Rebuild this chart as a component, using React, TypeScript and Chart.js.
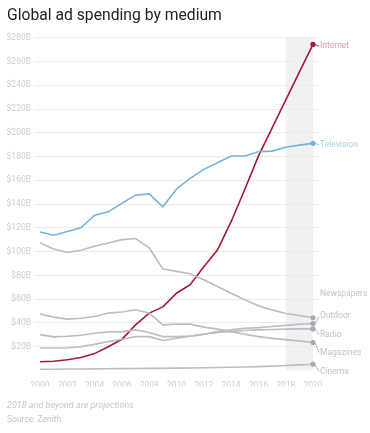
import React, { useEffect, useRef } from "react";
import { Chart, registerables } from "chart.js";

Chart.register(...registerables);

const years = [2000, 2001, 2002, 2003, 2004, 2005, 2006, 2007, 2008, 2009, 2010, 2011, 2012, 2013, 2014, 2015, 2016, 2017, 2018, 2019, 2020];
const xTickYears = [2000, 2002, 2004, 2006, 2008, 2010, 2012, 2014, 2016, 2018, 2020];
const yTickValues = [0, 20, 40, 60, 80, 100, 120, 140, 160, 180, 200, 220, 240, 260, 280];

const internet = [7.3, 7.8, 9.0, 11.0, 14.2, 20.0, 26.3, 38.4, 48.3, 53.5, 65.0, 72.2, 87.2, 101.3, 125.2, 152.3, 180.4, 204.0, 227.5, 251.0, 274.3];
const television = [116.6, 113.8, 116.9, 120.0, 130.7, 133.5, 140.7, 147.5, 148.6, 137.8, 152.6, 161.6, 169.2, 174.8, 180.5, 180.5, 184.1, 184.6, 187.8, 189.6, 191.1];
const newspapers = [107.4, 102.3, 99.4, 101.1, 104.5, 107.3, 110.1, 111.0, 103.2, 85.4, 83.4, 81.4, 76.4, 70.7, 65.0, 59.5, 54.4, 51.0, 48.0, 46.3, 44.4];
const outdoor = [18.9, 18.9, 18.9, 20.1, 22.1, 24.3, 26.3, 28.5, 28.5, 25.2, 27.2, 28.9, 30.5, 32.7, 34.2, 35.6, 36.1, 37.0, 38.0, 38.9, 39.5];
const radio = [30.2, 28.3, 28.8, 29.7, 31.4, 32.5, 32.7, 34.2, 31.9, 28.5, 28.5, 28.9, 30.5, 32.0, 32.7, 33.6, 34.2, 34.5, 34.8, 35.0, 35.0];
const magazines = [47.6, 44.9, 43.2, 44.0, 45.4, 48.3, 49.2, 51.1, 48.3, 38.4, 39.0, 39.0, 36.5, 34.8, 32.7, 30.5, 28.5, 27.0, 26.0, 24.8, 23.5];
const cinema = [1.0, 1.1, 1.2, 1.3, 1.4, 1.5, 1.6, 1.7, 1.8, 1.8, 2.0, 2.1, 2.3, 2.5, 2.7, 3.0, 3.3, 3.7, 4.2, 4.7, 5.3];

const projectionStart = 2018;
const projectionEnd = 2020;

const RED = "#a8192f";
const BLUE = "#74b4de";
const GRAY = "#bcbcc3";
const GRAY_DOT = "#a9a9b1";

type SeriesDef = {
  name: string;
  values: number[];
  color: string;
  dot: string;
  labelColor: string;
  labelDy: number;
  leader: boolean;
};

const series: SeriesDef[] = [
  { name: "Newspapers", values: newspapers, color: GRAY, dot: GRAY_DOT, labelColor: "#c2c2c2", labelDy: -23.7, leader: false },
  { name: "Outdoor", values: outdoor, color: GRAY, dot: GRAY_DOT, labelColor: "#c2c2c2", labelDy: -7.6, leader: true },
  { name: "Radio", values: radio, color: GRAY, dot: GRAY_DOT, labelColor: "#c2c2c2", labelDy: 6, leader: true },
  { name: "Magazines", values: magazines, color: GRAY, dot: GRAY_DOT, labelColor: "#c2c2c2", labelDy: 10, leader: true },
  { name: "Cinema", values: cinema, color: GRAY, dot: GRAY_DOT, labelColor: "#c2c2c2", labelDy: 7.2, leader: true },
  { name: "Television", values: television, color: BLUE, dot: BLUE, labelColor: "#a3cfec", labelDy: 1.5, leader: true },
  { name: "Internet", values: internet, color: RED, dot: RED, labelColor: "#dc9fab", labelDy: 1.5, leader: true },
];

const FONT = "Roboto, 'Noto Sans', sans-serif";

const bandPlugin = {
  id: "projectionBand",
  beforeDraw(chart: any) {
    const { ctx, chartArea, scales } = chart;
    const x0 = scales.x.getPixelForValue(projectionStart);
    const x1 = scales.x.getPixelForValue(projectionEnd);
    ctx.save();
    ctx.fillStyle = "#f1f1f3";
    ctx.fillRect(x0, chartArea.top, x1 - x0, chartArea.bottom - chartArea.top);
    ctx.restore();
  },
};

const endLabelPlugin = {
  id: "endLabels",
  afterDatasetsDraw(chart: any) {
    const { ctx } = chart;
    ctx.save();
    ctx.font = `8.5px ${FONT}`;
    ctx.textBaseline = "middle";
    ctx.textAlign = "left";
    chart.data.datasets.forEach((ds: any, i: number) => {
      const meta = chart.getDatasetMeta(i);
      const pt = meta.data[meta.data.length - 1];
      if (!pt) return;
      const s = series[i];
      const ly = pt.y + s.labelDy;
      if (s.leader) {
        ctx.strokeStyle = s.dot;
        ctx.lineWidth = 0.8;
        ctx.beginPath();
        ctx.moveTo(pt.x + 2, pt.y);
        ctx.lineTo(pt.x + 6, ly);
        ctx.stroke();
      }
      ctx.fillStyle = s.labelColor;
      ctx.fillText(s.name, pt.x + 7, ly);
    });
    ctx.restore();
  },
};

export default function App() {
  const canvasRef = useRef<HTMLCanvasElement | null>(null);

  useEffect(() => {
    if (!canvasRef.current) return;
    const last = years.length - 1;
    const chart = new Chart(canvasRef.current, {
      type: "line",
      data: {
        datasets: series.map((s) => ({
          label: s.name,
          data: years.map((yr, i) => ({ x: yr, y: s.values[i] })),
          borderColor: s.color,
          backgroundColor: s.dot,
          borderWidth: 1.6,
          tension: 0,
          pointRadius: (c: any) => (c.dataIndex === last ? 2.6 : 0),
          pointBackgroundColor: s.dot,
          pointBorderWidth: 0,
          pointHoverRadius: 0,
        })),
      },
      options: {
        animation: false,
        responsive: false,
        maintainAspectRatio: false,
        events: [],
        layout: { padding: { top: 37.7, right: 51, bottom: 46.5, left: 0 } },
        plugins: {
          legend: { display: false },
          tooltip: { enabled: false },
          title: { display: false },
        },
        scales: {
          x: {
            type: "linear",
            min: 1999.56,
            max: 2020.44,
            grid: { display: false },
            border: { display: false },
            afterFit: (scale: any) => {
              scale.height = 16;
            },
            afterBuildTicks: (scale: any) => {
              scale.ticks = xTickYears.map((v) => ({ value: v }));
            },
            ticks: {
              padding: 2,
              color: "#cdcdcd",
              font: { family: FONT, size: 8.5 },
              callback: (v: any) => String(v),
              maxRotation: 0,
              autoSkip: false,
            },
          },
          y: {
            type: "linear",
            min: 0,
            max: 280,
            border: { display: false },
            grid: {
              drawTicks: false,
              color: (c: any) => (c.tick && c.tick.value === 0 ? "rgba(0,0,0,0)" : "#ebebeb"),
              lineWidth: 1,
            },
            afterFit: (scale: any) => {
              scale.width = 34;
            },
            afterBuildTicks: (scale: any) => {
              scale.ticks = yTickValues.map((v) => ({ value: v }));
            },
            ticks: {
              padding: 3,
              color: "#cdcdcd",
              font: { family: FONT, size: 8.5 },
              callback: (v: any) => (v === 0 ? "" : `$${v}B`),
            },
          },
        },
      },
      plugins: [bandPlugin, endLabelPlugin],
    });
    return () => chart.destroy();
  }, []);

  return (
    <div style={{ position: "fixed", left: 0, top: 0, width: 370, height: 433, background: "#fff", overflow: "hidden" }}>
      <canvas ref={canvasRef} width={370} height={433} style={{ position: "absolute", left: 0, top: 0, width: 370, height: 433 }} />
      <div style={{ position: "absolute", left: 7, top: 7.4, fontFamily: FONT, fontSize: 15.7, lineHeight: 1, color: "#222", whiteSpace: "nowrap" }}>
        Global ad spending by medium
      </div>
      <div style={{ position: "absolute", left: 7, top: 401.3, fontFamily: FONT, fontSize: 9, lineHeight: 1, fontStyle: "italic", color: "#c6c6c6", whiteSpace: "nowrap" }}>
        2018 and beyond are projections
      </div>
      <div style={{ position: "absolute", left: 7, top: 414.8, fontFamily: FONT, fontSize: 8.5, lineHeight: 1, color: "#c6c6c6", whiteSpace: "nowrap" }}>
        Source: Zenith
      </div>
    </div>
  );
}
